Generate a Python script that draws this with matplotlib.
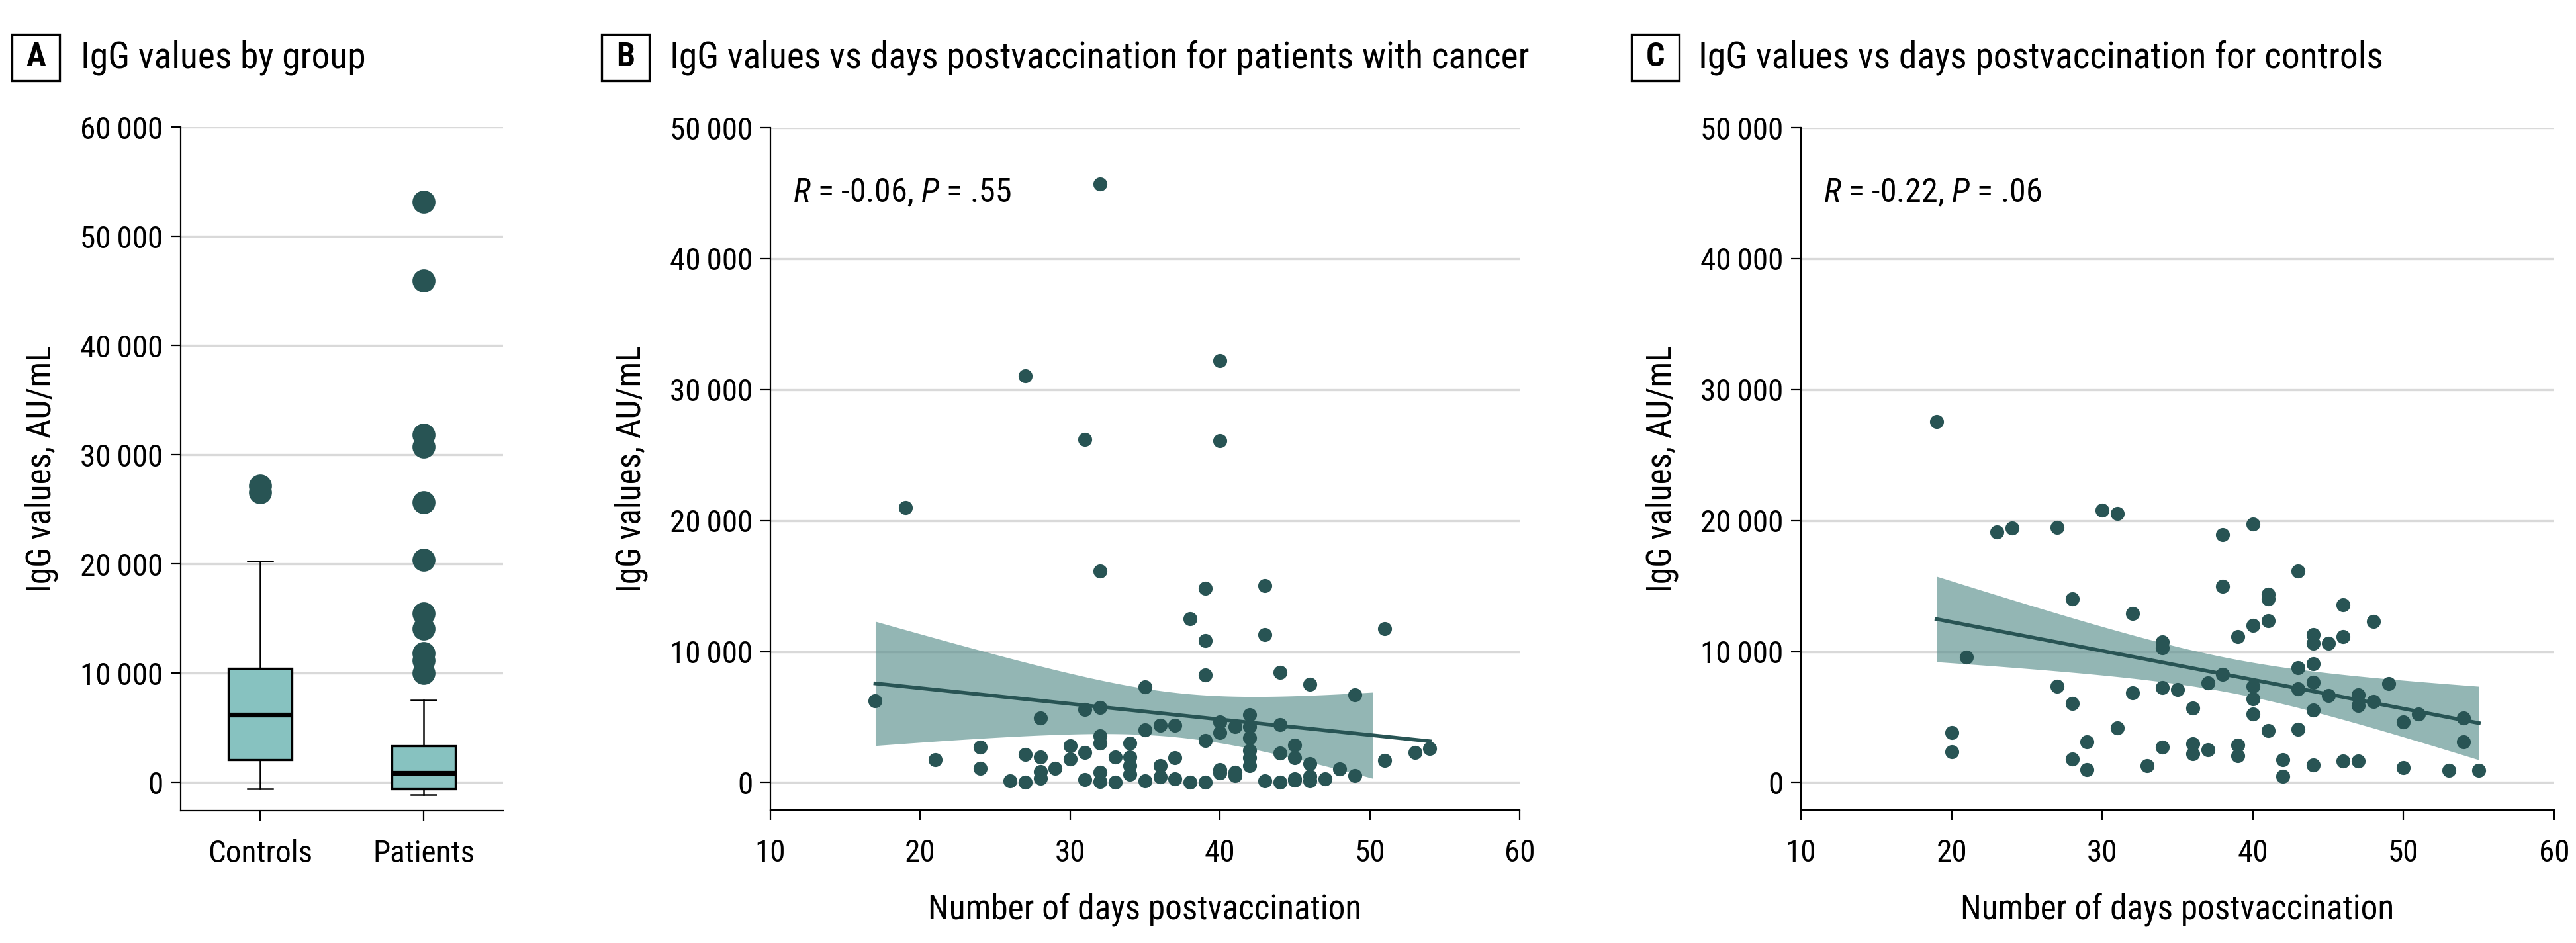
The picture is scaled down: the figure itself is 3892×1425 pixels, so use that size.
import numpy as np
import matplotlib
matplotlib.use('Agg')
import matplotlib.pyplot as plt
from matplotlib import font_manager as fm
from matplotlib.ticker import FuncFormatter
from matplotlib.patches import Rectangle

# pick a condensed sans that is installed
have = set(f.name for f in fm.fontManager.ttflist)
cands = ['Roboto Condensed', 'Fira Sans Condensed', 'PT Sans Narrow', 'Archivo Narrow',
         'IBM Plex Sans Condensed']
font = [c for c in cands if c in have][0]
plt.rcParams['font.family'] = [font, 'DejaVu Sans']
plt.rcParams['mathtext.fontset'] = 'custom'
plt.rcParams['mathtext.rm'] = font
plt.rcParams['mathtext.it'] = font + ':italic'

# panel A: box plot summary
groups = ['Controls', 'Patients']
box_q1 = [2090, -600]
box_med = [6170, 830]
box_q3 = [10410, 3360]
whisk_lo = [-600, -1160]
whisk_hi = [20220, 7490]
fliers_ctrl = [27160, 26560]
fliers_pat = [53170, 45950, 31850, 30740, 25620, 20390, 15480, 14050, 11850, 11130, 10030]

# panel B: patients with cancer
days_b = [32, 27, 40, 31, 40, 19, 32, 39, 43, 38, 39, 43, 51, 39, 44, 35, 46, 49, 17, 31,
          32, 28, 35, 36, 37, 40, 40, 41, 42, 42, 42, 44, 39, 32, 32, 34, 30, 24, 45, 44,
          45, 42, 42, 42, 34, 34, 34, 31, 27, 28, 33, 37, 36, 46, 51, 53, 54, 21, 24, 30,
          29, 28, 28, 26, 27, 31, 32, 32, 33, 35, 36, 37, 38, 39, 40, 40, 41, 41, 43, 44,
          45, 46, 46, 47, 48, 49, 45]
igg_b = [45700, 31040, 32200, 26190, 26120, 20980, 16120, 14850, 15020, 12510, 10840, 11300,
         11760, 8220, 8430, 7300, 7510, 6700, 6240, 5560, 5740, 4930, 4000, 4360, 4360, 4600,
         3830, 4290, 5170, 4290, 3400, 4430, 3220, 3540, 3010, 2980, 2800, 2690, 2830, 2270,
         1910, 2450, 1880, 1310, 1950, 1310, 640, 2300, 2160, 1950, 1950, 1910, 1310, 1420,
         1700, 2300, 2590, 1740, 1060, 1770, 1060, 850, 350, 140, 35, 210, 780, 70, 35, 140,
         430, 280, 35, 35, 960, 710, 780, 530, 140, 35, 280, 500, 140, 280, 1030, 530, 180]

# panel C: controls
days_c = [19, 20, 20, 21, 23, 24, 27, 27, 28, 28, 28, 29, 29, 30, 31, 31, 32, 32, 33, 34,
          34, 34, 34, 35, 36, 36, 36, 37, 37, 38, 38, 38, 39, 39, 39, 40, 40, 40, 40, 40,
          41, 41, 41, 41, 42, 42, 43, 43, 43, 43, 44, 44, 44, 44, 44, 44, 45, 45, 46, 46,
          46, 47, 47, 47, 48, 48, 49, 50, 50, 51, 53, 54, 54, 55]
igg_c = [27570, 3830, 2340, 9570, 19100, 19450, 19490, 7370, 14000, 6020, 1810, 3080, 960,
         20800, 20520, 4180, 12930, 6840, 1280, 10740, 10280, 7260, 2690, 7120, 5700, 2940,
         2200, 7580, 2480, 18920, 14990, 8260, 11160, 2870, 2020, 19740, 11980, 7340, 6410,
         5240, 14390, 14030, 12370, 3970, 1740, 460, 16120, 8750, 7160, 4080, 11270, 10630,
         9070, 7650, 5530, 1350, 10630, 6660, 13570, 11160, 1630, 6700, 5880, 1630, 12300,
         6200, 7550, 4640, 1130, 5240, 920, 4930, 3120, 920]

titles = ['IgG values by group',
          'IgG values vs days postvaccination for patients with cancer',
          'IgG values vs days postvaccination for controls']
letters = ['A', 'B', 'C']
stats_txt = ['$R$ = -0.06, $P$ = .55',
             '$R$ = -0.22, $P$ = .06']

dark = '#285454'
boxcol = '#87c2c0'
grid = '#d9d9d9'

W, H = 3892, 1425
fig = plt.figure(figsize=(W / 200, H / 200), dpi=200)

def fmt(v, pos):
    return '{:,}'.format(int(v)).replace(',', '\u2009')

def style(ax):
    for s in ['top', 'right']:
        ax.spines[s].set_visible(False)
    for s in ['left', 'bottom']:
        ax.spines[s].set_linewidth(0.8)
    ax.tick_params(length=5.5, width=0.8, labelsize=17, pad=4)
    ax.yaxis.grid(True, color=grid, lw=1.2)
    ax.set_axisbelow(True)
    ax.yaxis.set_major_formatter(FuncFormatter(fmt))

axA = fig.add_axes([273 / W, 1 - 1225 / H, 487 / W, 1033 / H])
axB = fig.add_axes([1164 / W, 1 - 1224 / H, 1132 / W, 1031 / H])
axC = fig.add_axes([2721 / W, 1 - 1224 / H, 1138 / W, 1031 / H])

# A: box plot
bstats = []
for i, g in enumerate(groups):
    bstats.append(dict(label=g, q1=box_q1[i], med=box_med[i], q3=box_q3[i],
                       whislo=whisk_lo[i], whishi=whisk_hi[i],
                       fliers=[fliers_ctrl, fliers_pat][i]))
axA.bxp(bstats, positions=[0, 1], widths=0.39, patch_artist=True,
        boxprops=dict(facecolor=boxcol, edgecolor='black', lw=1.2),
        medianprops=dict(color='black', lw=2.6),
        whiskerprops=dict(color='black', lw=0.9),
        capprops=dict(color='black', lw=0.9), capwidths=0.155,
        flierprops=dict(marker='o', markerfacecolor=dark, markeredgecolor=dark,
                        markersize=11.5))
axA.set_xlim(-0.486, 1.486)
axA.set_ylim(-2600, 60000)
axA.set_yticks(np.arange(0, 60001, 10000))
style(axA)
axA.tick_params(axis='x', pad=10)
axA.set_ylabel('IgG values, AU/mL', fontsize=18.5, labelpad=12)

# B and C: scatter with regression line and 95% CI
def scatter_panel(ax, x, y, band_end, txt):
    x = np.array(x, float)
    y = np.array(y, float)
    ax.scatter(x, y, s=58, color=dark, lw=0, zorder=3)
    b, a = np.polyfit(x, y, 1)
    n = len(x)
    resid = y - (a + b * x)
    s = np.sqrt(np.sum(resid ** 2) / (n - 2))
    sxx = np.sum((x - x.mean()) ** 2)
    xl = np.linspace(x.min(), x.max(), 100)
    ax.plot(xl, a + b * xl, color=dark, lw=2.0, zorder=4)
    xb = np.linspace(x.min(), band_end, 100)
    se = s * np.sqrt(1 / n + (xb - x.mean()) ** 2 / sxx)
    yb = a + b * xb
    ax.fill_between(xb, yb - 1.96 * se, yb + 1.96 * se, color='#5a8f8c', alpha=0.65,
                    lw=0, zorder=2)
    ax.set_xlim(10, 60)
    ax.set_ylim(-2100, 50000)
    ax.set_xticks(np.arange(10, 61, 10))
    ax.set_yticks(np.arange(0, 50001, 10000))
    style(ax)
    ax.tick_params(axis='x', pad=10)
    ax.text(11.5, 45000, txt, fontsize=18, va='center', ha='left')
    ax.set_xlabel('Number of days postvaccination', fontsize=18.5, labelpad=14)
    ax.set_ylabel('IgG values, AU/mL', fontsize=18.5, labelpad=12)

scatter_panel(axB, days_b, igg_b, 50.2, stats_txt[0])
scatter_panel(axC, days_c, igg_c, 55, stats_txt[1])

# panel headings with boxed letters; title sized to span the same width as the original
box_x = [18, 909, 2465]
txt_x = [122, 1012, 2566]
txt_end = [568, 2308, 3600]
fig.canvas.draw()
r = fig.canvas.get_renderer()
for i in range(3):
    fig.add_artist(Rectangle((box_x[i] / W, 1 - 122 / H), 72 / W, 70 / H,
                             transform=fig.transFigure, fill=False, ec='black', lw=1.2))
    fig.text((box_x[i] + 36) / W, 1 - 87 / H, letters[i], fontsize=18, fontweight='bold',
             ha='center', va='center')
    t = fig.text(txt_x[i] / W, 1 - 87 / H, titles[i], fontsize=19.5, ha='left', va='center')
    wpx = t.get_window_extent(r).width
    if i == 1:
        size = 19.5 * (txt_end[i] - txt_x[i]) / wpx
        size = min(max(size, 17), 22)
for t in fig.texts:
    if t.get_text() in titles:
        t.set_fontsize(size)

fig.savefig('out.png', dpi=200)
